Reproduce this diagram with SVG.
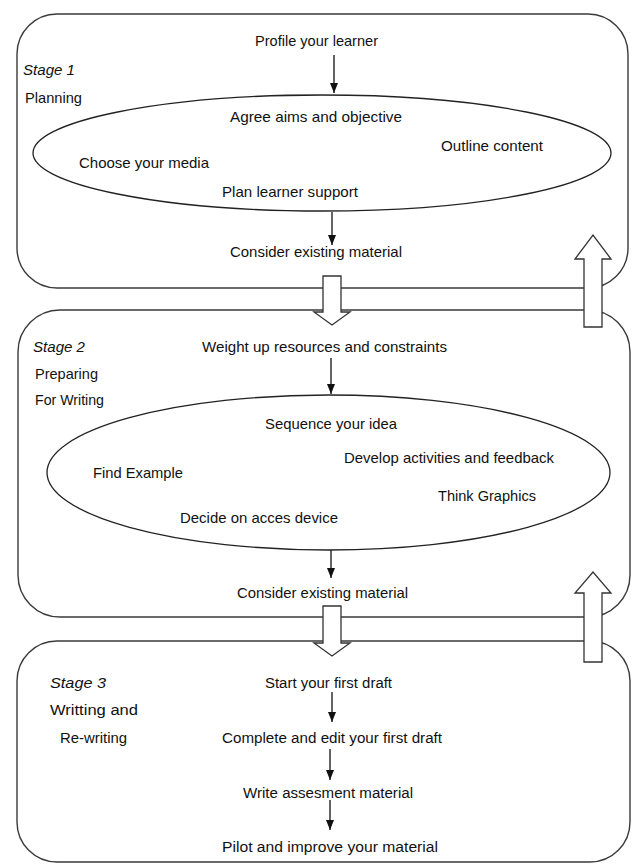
<svg xmlns="http://www.w3.org/2000/svg" width="635" height="864" viewBox="0 0 635 864">
<style>
.box{fill:none;stroke:#3a3a3a;stroke-width:1.4}
.ell{fill:none;stroke:#222;stroke-width:1.3}
.t{font-family:"Liberation Sans",Arial,sans-serif;font-size:15px;fill:#111}
.t3{font-size:15.5px}
.it{font-style:italic}
.ln{stroke:#111;stroke-width:1.3;fill:none}
.blk{fill:#fff;stroke:#333;stroke-width:1.3;stroke-linejoin:miter}
</style>
<defs>
<marker id="ah" markerWidth="10" markerHeight="8" refX="10" refY="4" orient="auto" markerUnits="userSpaceOnUse" viewBox="0 0 10 8">
<path d="M0,0 L10,4 L0,8 Z" fill="#111"/>
</marker>
</defs>
<rect width="635" height="864" fill="#fff"/>

<g id="stage1">
<rect class="box" x="17" y="14" width="611" height="274" rx="40" ry="40"/>
<ellipse class="ell" cx="322" cy="153" rx="289" ry="58"/>
<text class="t it" x="23" y="75" textLength="52" lengthAdjust="spacingAndGlyphs">Stage 1</text>
<text class="t" x="25" y="103" textLength="57" lengthAdjust="spacingAndGlyphs">Planning</text>
<text class="t" x="255" y="46" textLength="123" lengthAdjust="spacingAndGlyphs">Profile your learner</text>
<text class="t" x="230" y="122" textLength="172" lengthAdjust="spacingAndGlyphs">Agree aims and objective</text>
<text class="t" x="441" y="151" textLength="102" lengthAdjust="spacingAndGlyphs">Outline content</text>
<text class="t" x="79" y="168" textLength="130" lengthAdjust="spacingAndGlyphs">Choose your media</text>
<text class="t" x="222" y="197" textLength="136" lengthAdjust="spacingAndGlyphs">Plan learner support</text>
<text class="t" x="230" y="257" textLength="172" lengthAdjust="spacingAndGlyphs">Consider existing material</text>
</g>

<g id="stage2">
<rect class="box" x="18" y="310" width="612" height="307" rx="42" ry="42"/>
<ellipse class="ell" cx="328.5" cy="472.5" rx="281.5" ry="77.5"/>
<text class="t it" x="33" y="352" textLength="52" lengthAdjust="spacingAndGlyphs">Stage 2</text>
<text class="t" x="35" y="379" textLength="63" lengthAdjust="spacingAndGlyphs">Preparing</text>
<text class="t" x="35" y="405" textLength="69" lengthAdjust="spacingAndGlyphs">For Writing</text>
<text class="t" x="202" y="352" textLength="245" lengthAdjust="spacingAndGlyphs">Weight up resources and constraints</text>
<text class="t" x="265" y="429" textLength="132" lengthAdjust="spacingAndGlyphs">Sequence your idea</text>
<text class="t" x="344" y="463" textLength="210" lengthAdjust="spacingAndGlyphs">Develop activities and feedback</text>
<text class="t" x="93" y="478" textLength="90" lengthAdjust="spacingAndGlyphs">Find Example</text>
<text class="t" x="438" y="501" textLength="98" lengthAdjust="spacingAndGlyphs">Think Graphics</text>
<text class="t" x="180" y="523" textLength="158" lengthAdjust="spacingAndGlyphs">Decide on acces device</text>
<text class="t" x="237" y="598" textLength="171" lengthAdjust="spacingAndGlyphs">Consider existing material</text>
</g>

<g id="stage3">
<rect class="box" x="17" y="641" width="613" height="221" rx="40" ry="40"/>
<text class="t t3 it" x="50" y="688" textLength="56" lengthAdjust="spacingAndGlyphs">Stage 3</text>
<text class="t t3" x="50" y="715" textLength="88" lengthAdjust="spacingAndGlyphs">Writting and</text>
<text class="t t3" x="60" y="743" textLength="67" lengthAdjust="spacingAndGlyphs">Re-writing</text>
<text class="t t3" x="265" y="688" textLength="127" lengthAdjust="spacingAndGlyphs">Start your first draft</text>
<text class="t t3" x="222" y="743" textLength="220" lengthAdjust="spacingAndGlyphs">Complete and edit your first draft</text>
<text class="t t3" x="243" y="798" textLength="170" lengthAdjust="spacingAndGlyphs">Write assesment material</text>
<text class="t t3" x="222" y="852" textLength="216" lengthAdjust="spacingAndGlyphs">Pilot and improve your material</text>
</g>

<g id="connectors">
<line class="ln" x1="334" y1="55" x2="334" y2="93" marker-end="url(#ah)"/>
<line class="ln" x1="332" y1="212" x2="332" y2="245" marker-end="url(#ah)"/>
<line class="ln" x1="331" y1="358" x2="331" y2="394" marker-end="url(#ah)"/>
<line class="ln" x1="331" y1="550" x2="331" y2="578" marker-end="url(#ah)"/>
<line class="ln" x1="332" y1="692" x2="332" y2="722" marker-end="url(#ah)"/>
<line class="ln" x1="330" y1="749" x2="330" y2="780" marker-end="url(#ah)"/>
<line class="ln" x1="330" y1="800" x2="330" y2="830" marker-end="url(#ah)"/>
<polygon class="blk" points="323,276 341,276 341,312 350,312 332,325 314,312 323,312"/>
<polygon class="blk" points="584,327 602,327 602,259 611,259 593,235 575,259 584,259"/>
<polygon class="blk" points="323,606 341,606 341,643 350,643 332,656 314,643 323,643"/>
<polygon class="blk" points="584,662 602,662 602,593 611,593 593,572 575,593 584,593"/>
</g>
</svg>
